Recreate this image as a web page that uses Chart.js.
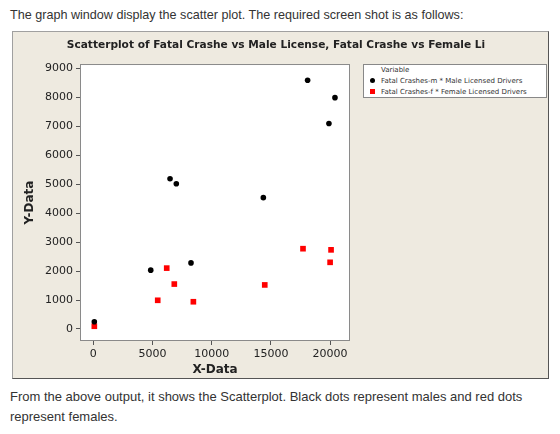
<!DOCTYPE html>
<html>
<head>
<meta charset="utf-8">
<script src="https://cdn.jsdelivr.net/npm/chart.js@4.4.1/dist/chart.umd.min.js"></script>
<style>
  body { margin: 0; width: 560px; height: 434px; background: #fff; font-family: "Liberation Sans", Arial, sans-serif; color: #333; position: relative; overflow: hidden; }
  .txt { position: absolute; left: 10px; font-size: 13px; white-space: nowrap; }
  #panel { position: absolute; left: 12px; top: 31px; width: 535px; height: 346px; background: #eeeae0;
           border: 1px solid #a0a0a0; border-right-color: #555; border-bottom-color: #555; }
  #chartBox { position: absolute; left: 0; top: 0; width: 535px; height: 346px; }
  #legend { position: absolute; left: 350px; top: 32px; width: 182px; height: 32px; background: #fff; border: 1px solid #888;
            font-family: "DejaVu Sans", sans-serif; font-size: 7px; color: #333; }
  #legend div { position: absolute; left: 17px; white-space: nowrap; }
  #legend span { position: absolute; left: -11px; top: 1px; }
</style>
</head>
<body>
<div class="txt" style="top:8px;font-size:12.6px">The graph window display the scatter plot. The required screen shot is as follows:</div>
<div id="panel">
  <div id="chartBox"><canvas id="scatterChart" width="535" height="346"></canvas></div>
  <div id="legend"></div>
</div>
<div class="txt" style="top:389px">From the above output, it shows the Scatterplot. Black dots represent males and red dots</div>
<div class="txt" style="top:409px">represent females.</div>

<script>
// DATA
const maleX = [85, 4850, 6480, 7010, 8250, 14360, 18100, 19900, 20410];
const maleY = [250, 2030, 5180, 5010, 2280, 4530, 8580, 7090, 7980];
const femaleX = [85, 5440, 6200, 6840, 8450, 14480, 17710, 20000, 20080];
const femaleY = [95, 990, 2100, 1550, 940, 1520, 2770, 2300, 2730];
const xTicks = [0, 5000, 10000, 15000, 20000];
const yTicks = [0, 1000, 2000, 3000, 4000, 5000, 6000, 7000, 8000, 9000];
const seriesNames = ["Fatal Crashes-m * Male Licensed Drivers", "Fatal Crashes-f * Female Licensed Drivers"];
const seriesColors = ["#000000", "#ff0000"];
const seriesShapes = ["circle", "rect"];

const toPoints = (xs, ys) => xs.map((x, i) => ({ x: x, y: ys[i] }));

// white plot area + frame
const plotFrame = {
    id: "plotFrame",
    beforeDatasetsDraw(chart) {
        const a = chart.chartArea, ctx = chart.ctx;
        ctx.save();
        ctx.fillStyle = "#fff";
        ctx.fillRect(a.left, a.top, a.right - a.left, a.bottom - a.top);
        ctx.strokeStyle = "#8a8a8a";
        ctx.lineWidth = 1;
        ctx.strokeRect(a.left + 0.5, a.top + 0.5, a.right - a.left - 1, a.bottom - a.top - 1);
        ctx.restore();
    }
};

const tickFont = { family: "DejaVu Sans", size: 11 };
const titleFont = { family: "DejaVu Sans", size: 12, weight: "bold" };
const plain = v => String(v);

document.addEventListener("DOMContentLoaded", () => {
    const ctx = document.getElementById("scatterChart");
    new Chart(ctx, {
        type: "scatter",
        data: {
            datasets: [
                { label: seriesNames[0], data: toPoints(maleX, maleY), backgroundColor: seriesColors[0], borderColor: seriesColors[0],
                  pointStyle: seriesShapes[0], pointRadius: 2.8, borderWidth: 0 },
                { label: seriesNames[1], data: toPoints(femaleX, femaleY), backgroundColor: seriesColors[1], borderColor: seriesColors[1],
                  pointStyle: seriesShapes[1], pointRadius: 4, borderWidth: 0 }
            ]
        },
        options: {
            responsive: false,
            animation: false,
            layout: { padding: { left: 0, right: 9, top: 0, bottom: 0 } },
            plugins: {
                legend: { display: false },
                tooltip: { enabled: false },
                title: {
                    display: true,
                    text: "Scatterplot of Fatal Crashe vs Male License, Fatal Crashe vs Female Li",
                    color: "#222",
                    font: { family: "DejaVu Sans", size: 10.6, weight: "bold" },
                    padding: { top: 6.6, bottom: 12.7 }
                }
            },
            scales: {
                x: {
                    type: "linear",
                    min: -1125, max: 21680,
                    afterBuildTicks: s => { s.ticks = xTicks.map(v => ({ value: v })); },
                    afterFit: s => { s.height = 37; },
                    border: { display: false },
                    grid: { display: true, drawOnChartArea: false, drawTicks: true, tickLength: 4, color: "#555" },
                    ticks: { font: tickFont, color: "#222", padding: 3, maxRotation: 0, callback: plain },
                    title: { display: true, text: "X-Data", font: titleFont, color: "#222", padding: { top: 0, bottom: 1 } }
                },
                y: {
                    type: "linear",
                    min: -414, max: 9140,
                    afterBuildTicks: s => { s.ticks = yTicks.map(v => ({ value: v })); },
                    afterFit: s => { s.width = 67; },
                    border: { display: false },
                    grid: { display: true, drawOnChartArea: false, drawTicks: true, tickLength: 4, color: "#555" },
                    ticks: { font: tickFont, color: "#222", padding: 3, callback: plain },
                    title: { display: true, text: "Y-Data", font: titleFont, color: "#222", padding: { top: 10, bottom: 0 } }
                },
                // empty right axis that keeps room for the legend
                side: {
                    type: "linear",
                    position: "right",
                    afterFit: s => { s.width = 189; },
                    border: { display: false },
                    grid: { display: false },
                    ticks: { display: false }
                }
            }
        },
        plugins: [plotFrame]
    });

    // legend built from the series arrays
    const legend = document.getElementById("legend");
    let html = '<div style="top:1px">Variable</div>';
    seriesNames.forEach((name, i) => {
        const mark = seriesShapes[i] === "circle"
            ? '<span style="width:5px;height:5px;border-radius:50%;background:' + seriesColors[i] + '"></span>'
            : '<span style="width:5px;height:5px;background:' + seriesColors[i] + '"></span>';
        html += '<div style="top:' + (12 + i * 11) + 'px">' + mark + name + '</div>';
    });
    legend.innerHTML = html;
});
</script>
</body>
</html>
